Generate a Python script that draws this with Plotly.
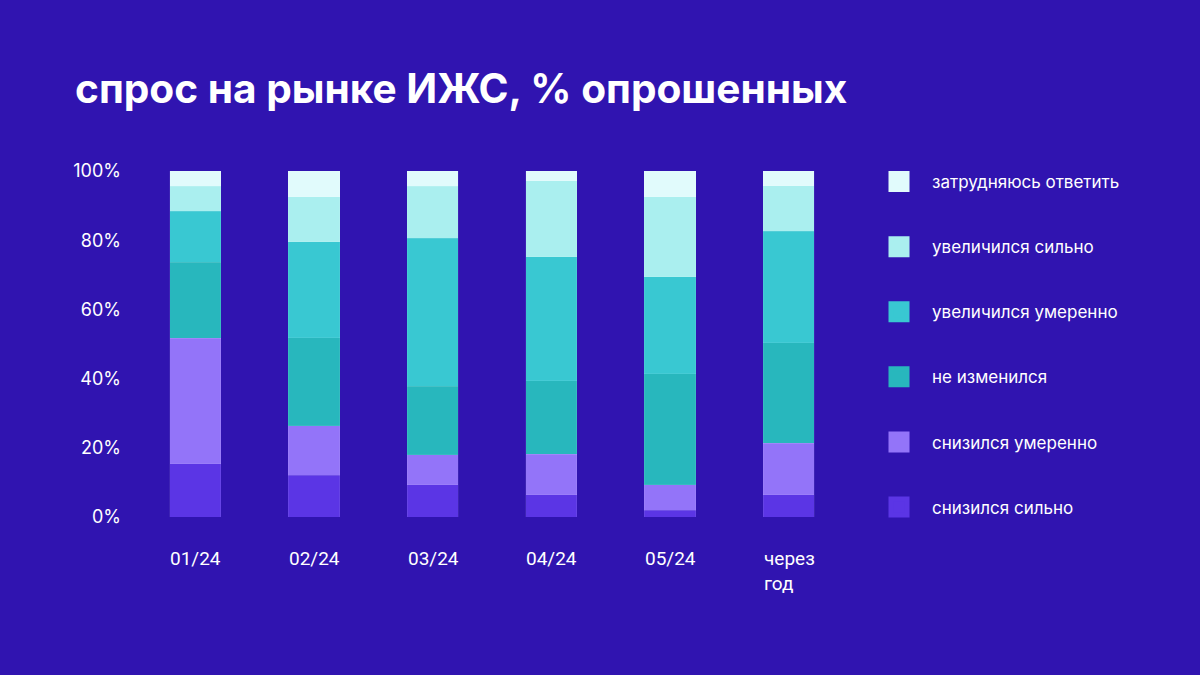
import plotly.graph_objects as go

categories = ["01/24", "02/24", "03/24", "04/24", "05/24", "через<br>год"]

series_names = [
    "снизился сильно",
    "снизился умеренно",
    "не изменился",
    "увеличился умеренно",
    "увеличился сильно",
    "затрудняюсь ответить",
]
decreased_strong = [15.4, 12.0, 9.3, 6.5, 1.9, 6.5]
decreased_moderate = [36.3, 14.4, 8.7, 11.6, 7.4, 14.8]
unchanged = [21.9, 25.4, 19.8, 21.3, 32.1, 29.1]
increased_moderate = [14.7, 27.8, 42.8, 35.8, 28.1, 32.2]
increased_strong = [7.3, 13.0, 15.0, 22.0, 23.1, 13.1]
hard_to_say = [4.4, 7.4, 4.4, 2.8, 7.4, 4.3]

colors = ["#5B35E5", "#9374F9", "#28B7BD", "#39C8D2", "#AAEFEF", "#E1FBFC"]
y_ticks = [0, 20, 40, 60, 80, 100]
y_tick_labels = ["0%", "20%", "40%", "60%", "80%", "100%"]

BG = "#3014B0"
FONT = "Inter"

values = [decreased_strong, decreased_moderate, unchanged,
          increased_moderate, increased_strong, hard_to_say]

fig = go.Figure()
for name, vals, col in zip(series_names, values, colors):
    fig.add_trace(go.Bar(
        x=categories, y=vals, name=name, showlegend=False,
        marker=dict(color=col, line=dict(width=0.6, color="rgba(255,255,255,0.12)")),
    ))
# legend entries (no data points), top entry first
for i in reversed(range(len(series_names))):
    fig.add_trace(go.Scatter(
        x=[None], y=[None], mode="markers", name=series_names[i],
        legendgroup=f"g{i}",
        marker=dict(symbol="square", size=16, color=colors[i],
                    line=dict(width=5, color=colors[i])),
    ))

# x-axis labels, left-aligned like the original
for cat in categories:
    fig.add_annotation(
        x=cat, y=0, xref="x", yref="y", yanchor="top",
        xanchor="left", align="left", xshift=-27, yshift=-28,
        text=cat, showarrow=False,
        font=dict(family="Roboto", size=19, color="white"),
    )

fig.update_layout(
    width=1200, height=675,
    paper_bgcolor=BG, plot_bgcolor=BG,
    barmode="stack", bargap=0.57,
    margin=dict(l=136, r=352, t=171, b=158),
    title=dict(
        text="<b>спрос на рынке ИЖС, % опрошенных</b>",
        x=75 / 1200, xanchor="left", xref="container",
        y=1 - 89 / 675, yanchor="middle", yref="container",
        font=dict(family=FONT, size=40.6, color="white"),
    ),
    xaxis=dict(showticklabels=False, showgrid=False, zeroline=False,
               showline=False, ticks=""),
    yaxis=dict(range=[0, 100], tickvals=y_ticks, ticktext=y_tick_labels,
               showgrid=False, zeroline=False, showline=False, ticks="",
               ticklabelstandoff=14,
               tickfont=dict(family=FONT, size=18, color="white")),
    legend=dict(
        xref="container", yref="container",
        x=866 / 1200, xanchor="left",
        y=1 - 164 / 675, yanchor="top",
        traceorder="grouped", tracegroupgap=40, maxheight=600,
        itemwidth=56, bgcolor="rgba(0,0,0,0)",
        font=dict(family=FONT, size=17, color="white"),
    ),
)

fig.write_html("out.html", config={"displayModeBar": False},
               post_script="document.body.style.margin='0';")
